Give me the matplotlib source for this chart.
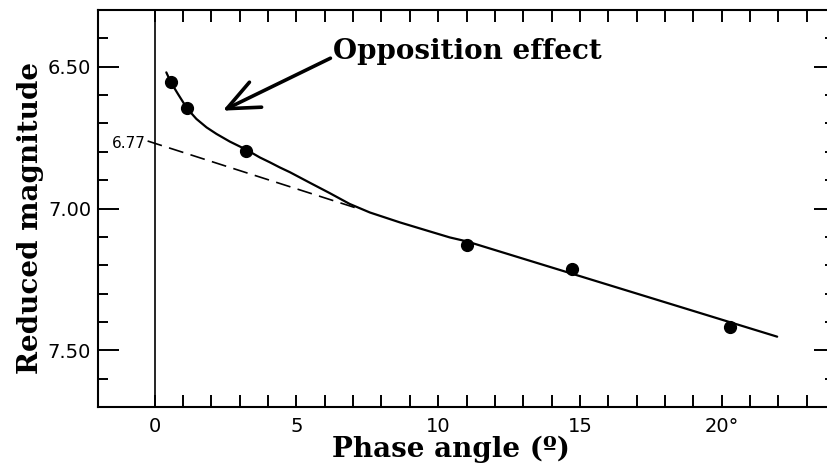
import matplotlib
matplotlib.use('Agg')
import matplotlib.pyplot as plt
import matplotlib.ticker as ticker

# observed reduced magnitudes vs phase angle
phase = [0.57, 1.13, 3.22, 11.02, 14.73, 20.30]
mag = [6.553, 6.645, 6.796, 7.127, 7.215, 7.418]

curve_x = [0.41, 0.57, 0.82, 1.14, 1.47, 1.83, 2.18, 2.65, 3.24, 3.71, 4.06, 4.41,
           4.77, 5.47, 6.18, 6.88, 7.59, 8.65, 9.71, 10.41, 11.01, 21.96]
curve_y = [6.520, 6.555, 6.596, 6.647, 6.684, 6.714, 6.737, 6.764, 6.793, 6.820, 6.837, 6.855,
           6.872, 6.909, 6.946, 6.984, 7.014, 7.049, 7.081, 7.102, 7.116, 7.452]

# linear part extrapolated to zero phase
h0 = 6.77
lin_x = [-0.25, 7.3]
lin_y = [h0 - 0.25 * 0.0321, h0 + 7.3 * 0.0321]

x_ticks = [0, 5, 10, 15, 20]
x_ticklabels = ['0', '5', '10', '15', '20°']
y_ticks = [6.5, 7.0, 7.5]
y_ticklabels = ['6.50', '7.00', '7.50']

W, H = 827, 463
fig = plt.figure(figsize=(W / 100, H / 100), dpi=100)
ax = fig.add_axes([98 / W, 56 / H, (835 - 98) / W, 397 / H])

ax.set_xlim(-2, 24)
ax.set_ylim(7.7, 6.3)

ax.axvline(0, color='black', lw=1.2)
ax.plot(lin_x, lin_y, color='black', lw=1.2, dashes=(9, 4.5))
ax.plot(curve_x, curve_y, color='black', lw=1.6, solid_capstyle='round', solid_joinstyle='round')
ax.plot(phase, mag, 'o', color='black', ms=8.5)

ax.text(-0.3, h0, f'{h0:.2f}', ha='right', va='center', fontsize=11)

ax.annotate('', xy=(2.4, 6.655), xytext=(6.2, 6.47),
            arrowprops=dict(arrowstyle='->,head_length=2.3,head_width=1.0',
                            lw=2.6, color='black', shrinkA=0, shrinkB=0))
ax.text(6.28, 6.445, 'Opposition effect', ha='left', va='center',
        fontsize=20, fontweight='bold', family='DejaVu Serif')

ax.set_xticks(x_ticks)
ax.set_xticklabels(x_ticklabels)
ax.xaxis.set_minor_locator(ticker.FixedLocator(range(1, 24)))
ax.set_yticks(y_ticks)
ax.set_yticklabels(y_ticklabels)
ax.yaxis.set_minor_locator(ticker.FixedLocator([6.4, 6.6, 6.7, 6.8, 6.9, 7.1, 7.2, 7.3, 7.4, 7.6]))

ax.tick_params(axis='x', which='both', direction='in', top=True, bottom=True,
               length=8.5, width=1.4, labelsize=14, pad=7)
ax.tick_params(axis='y', which='major', direction='in', left=True, right=True,
               length=15, width=1.4, labelsize=14, pad=5)
ax.tick_params(axis='y', which='minor', direction='in', left=True, right=True,
               length=7.5, width=1.4)

for side in ['left', 'bottom', 'top', 'right']:
    ax.spines[side].set_linewidth(1.5)

ax.text(0.479, -0.106, 'Phase angle (º)', transform=ax.transAxes, ha='center', va='center',
        fontsize=20, fontweight='bold', family='DejaVu Serif')
ax.text(-0.092, 0.476, 'Reduced magnitude', transform=ax.transAxes, ha='center', va='center',
        rotation=90, fontsize=20, fontweight='bold', family='DejaVu Serif')

fig.savefig('out.png', dpi=100)
